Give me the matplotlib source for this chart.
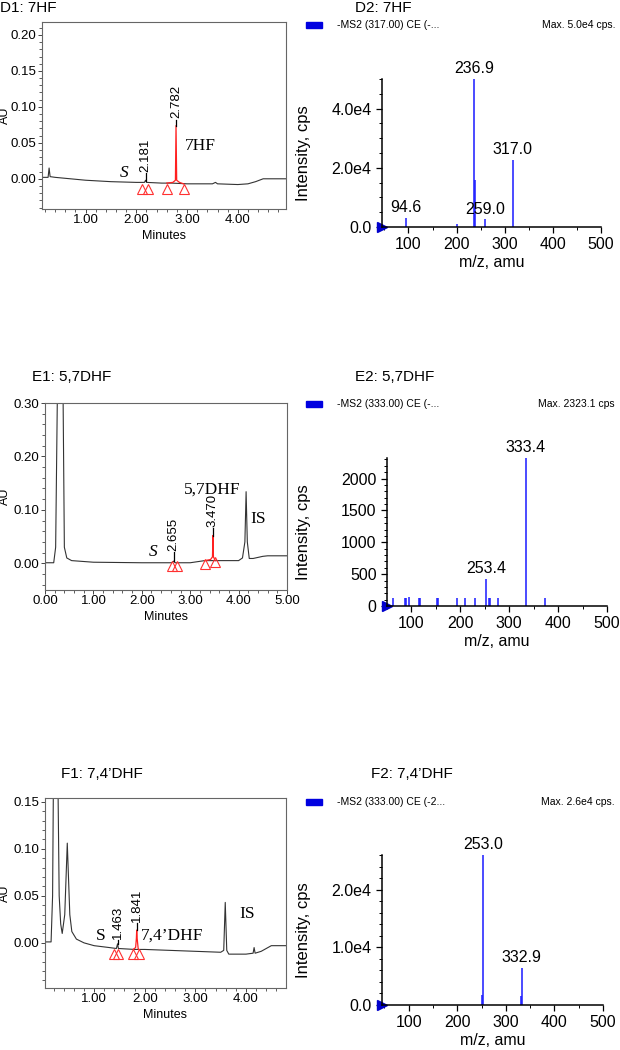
import numpy as np
import matplotlib.pyplot as plt
from matplotlib.ticker import MultipleLocator, FormatStrFormatter, FixedLocator, FuncFormatter
from matplotlib.patches import Rectangle

plt.rcParams['font.family'] = ['Liberation Sans', 'DejaVu Sans']

# ---------------- chromatograms (time in min, AU) ----------------
d1_t = [0.14, 0.26, 0.28, 0.30, 0.40, 0.70, 1.00, 1.50, 2.00, 2.16, 2.181, 2.20, 2.50, 2.70,
        3.00, 3.50, 3.56, 3.60, 4.00, 4.20, 4.35, 4.50, 4.95]
d1_au = [0.002, 0.002, 0.015, 0.003, 0.002, 0.000, -0.002, -0.004, -0.005, -0.005, -0.002, -0.005,
         -0.006, -0.006, -0.007, -0.007, -0.005, -0.007, -0.008, -0.007, -0.004, 0.000, 0.000]
d1_red_t = [2.60, 2.72, 2.77, 2.782, 2.795, 2.85, 2.93]
d1_red_au = [-0.006, -0.005, -0.002, 0.074, -0.002, -0.005, -0.007]
d1_tri_t = [2.12, 2.22, 2.60, 2.93]
d1_tri_au = [-0.014, -0.014, -0.014, -0.014]
d1_rt = ['2.181', '2.782']
d1_rt_lo = [-0.003, 0.074]
d1_rt_hi = [0.008, 0.082]

e1_t = [0.00, 0.18, 0.22, 0.26, 0.37, 0.40, 0.45, 0.55, 1.00, 2.00, 2.62, 2.655, 2.69, 3.00, 3.30,
        3.60, 4.00, 4.08, 4.13, 4.155, 4.18, 4.22, 4.30, 4.50, 4.60, 5.00]
e1_au = [0.001, 0.001, 0.03, 0.35, 0.35, 0.03, 0.010, 0.005, 0.002, 0.001, 0.001, 0.004, 0.001,
         0.001, 0.005, 0.005, 0.005, 0.010, 0.040, 0.134, 0.040, 0.009, 0.009, 0.013, 0.014, 0.014]
e1_red_t = [3.30, 3.42, 3.46, 3.47, 3.48, 3.52]
e1_red_au = [0.005, 0.007, 0.012, 0.052, 0.012, 0.005]
e1_tri_t = [2.62, 2.72, 3.31, 3.51]
e1_tri_au = [-0.006, -0.006, -0.002, 0.003]
e1_rt = ['2.655', '3.470']
e1_rt_lo = [0.004, 0.052]
e1_rt_hi = [0.021, 0.066]

f1_t = [0.03, 0.15, 0.18, 0.20, 0.28, 0.31, 0.34, 0.37, 0.42, 0.47, 0.52, 0.56, 0.65, 0.80, 1.00,
        1.30, 1.44, 1.463, 1.48, 1.80, 2.00, 2.50, 3.00, 3.50, 3.56, 3.59, 3.62, 3.66, 4.00, 4.14,
        4.16, 4.18, 4.30, 4.40, 4.50, 4.79]
f1_au = [0.001, 0.001, 0.05, 0.20, 0.20, 0.05, 0.02, 0.010, 0.03, 0.106, 0.03, 0.012, 0.004, 0.000,
         -0.003, -0.005, -0.006, -0.001, -0.006, -0.007, -0.007, -0.008, -0.009, -0.010, -0.008,
         0.043, -0.008, -0.012, -0.012, -0.011, -0.005, -0.011, -0.009, -0.006, -0.003, -0.003]
f1_red_t = [1.77, 1.82, 1.835, 1.841, 1.85, 1.87, 1.88]
f1_red_au = [-0.007, -0.005, 0.005, 0.0136, 0.005, -0.006, -0.007]
f1_tri_t = [1.40, 1.48, 1.77, 1.88]
f1_tri_au = [-0.012, -0.012, -0.012, -0.012]
f1_rt = ['1.463', '1.841']
f1_rt_lo = [-0.001, 0.0136]
f1_rt_hi = [0.003, 0.021]

# ---------------- MS2 spectra (m/z, cps) ----------------
d2_mz = [94.6, 200.0, 236.9, 237.9, 259.0, 317.0]
d2_int = [3100, 1000, 50000, 16000, 2600, 22600]
d2_lab = [94.6, 236.9, 259.0, 317.0]

e2_mz = [62, 86, 88, 96, 115, 117, 153, 155, 193, 209, 231, 253.4, 259, 261, 277, 333.4, 374]
e2_int = [125, 125, 125, 145, 125, 125, 125, 125, 125, 125, 125, 430, 125, 125, 125, 2323, 125]
e2_lab = [253.4, 333.4]

f2_mz = [251.6, 253.0, 331.9, 332.9]
f2_int = [1700, 26000, 1600, 6500]
f2_lab = [253.0, 332.9]

W, H = 620, 1050
fig = plt.figure(figsize=(W / 100, H / 100), dpi=100)


def rect(l, r, t, b):
    return [l / W, 1 - b / H, (r - l) / W, (b - t) / H]


def chrom(box, t, au, rt_, rt_au, tri_t, tri_au, rt, rt_lo, rt_hi, xlim, ylim, xt, ymaj, ymin, notes):
    ax = fig.add_axes(rect(*box))
    ax.plot(t, au, color='#333333', lw=0.8)
    ax.plot(rt_, rt_au, color='#ff2020', lw=0.9)
    ax.plot(tri_t, tri_au, ls='none', marker='^', ms=7.5, mfc='none', mec='#ff3030', mew=0.8)
    for lab, lo, hi in zip(rt, rt_lo, rt_hi):
        x = float(lab)
        ax.plot([x, x], [lo, hi], color='black', lw=0.9)
        ax.text(x, hi + 0.002 * (ylim[1] - ylim[0]) / 0.26, lab, rotation=90, ha='center',
                va='bottom', fontsize=9.5)
    for s, x, y, st in notes:
        ax.text(x, y, s, family=['Liberation Serif', 'DejaVu Serif'], fontsize=12.5,
                style=st, va='baseline', ha='left')
    ax.set_xlim(*xlim)
    ax.set_ylim(*ylim)
    ax.set_xticks(xt)
    ax.xaxis.set_minor_locator(MultipleLocator(0.2))
    ax.yaxis.set_major_locator(MultipleLocator(ymaj))
    ax.yaxis.set_minor_locator(MultipleLocator(ymin))
    ax.xaxis.set_major_formatter(FormatStrFormatter('%.2f'))
    ax.yaxis.set_major_formatter(FormatStrFormatter('%.2f'))
    ax.tick_params(which='major', length=3, width=0.7, labelsize=9.5, color='#444444', pad=0.8)
    ax.tick_params(which='minor', length=2.5, width=0.6, color='#444444')
    for sp in ax.spines.values():
        sp.set_color('#666666')
        sp.set_linewidth(0.8)
    ax.set_xlabel('Minutes', fontsize=9, labelpad=3)
    ax.set_ylabel('AU', fontsize=9)
    l, r = box[0], box[1]
    ax.yaxis.set_label_coords((11 - l) / (r - l), 0.5)
    return ax


def spec(box, mz, inten, lab, xlim, ymax, yt, yfmt, ymin, head, mx):
    ax = fig.add_axes(rect(*box))
    ax.vlines(mz, 0, inten, color='#1a1aff', lw=1.1)
    for m in lab:
        v = inten[mz.index(m)]
        ax.annotate('%.1f' % m, (m, v), xytext=(0, 2), textcoords='offset points',
                    ha='center', va='bottom', fontsize=11.5)
    ax.plot([xlim[0]], [0], marker='>', color='#0000cc', ms=7, clip_on=False)
    ax.set_xlim(*xlim)
    ax.set_ylim(0, ymax)
    ax.set_xticks([100, 200, 300, 400, 500])
    ax.xaxis.set_minor_locator(FixedLocator(np.arange(50, 501, 50)))
    ax.yaxis.set_major_locator(FixedLocator(yt))
    ax.yaxis.set_major_formatter(yfmt)
    ax.yaxis.set_minor_locator(MultipleLocator(ymin))
    for s in ['top', 'right']:
        ax.spines[s].set_visible(False)
    ax.spines['left'].set_linewidth(1.1)
    ax.spines['bottom'].set_linewidth(1.1)
    ax.tick_params(which='major', length=4, width=0.9, labelsize=11.5)
    ax.tick_params(which='minor', length=2, width=0.7)
    ax.set_xlabel('m/z, amu', fontsize=11.5, labelpad=2)
    ax.set_ylabel('Intensity, cps', fontsize=12)
    l, r = box[0], box[1]
    ax.yaxis.set_label_coords((311 - l) / (r - l), 0.5)
    # header line of the spectrum window
    fig.add_artist(Rectangle((306 / W, 1 - (head + 3) / H), 16 / W, 6 / H, transform=fig.transFigure,
                             color='#0000e0'))
    fig.text(337 / W, 1 - head / H, mx[0], fontsize=7.5, va='center', ha='left')
    fig.text(615 / W, 1 - head / H, mx[1], fontsize=7.5, va='center', ha='right')
    return ax


def e4(v, pos):
    return '0.0' if v == 0 else '%.1fe4' % (v / 1e4)


chrom((42, 286, 22, 209), d1_t, d1_au, d1_red_t, d1_red_au, d1_tri_t, d1_tri_au,
      d1_rt, d1_rt_lo, d1_rt_hi, (0.14, 4.95), (-0.042, 0.218), [1, 2, 3, 4], 0.05, 0.01,
      [('S', 1.68, 0.002, 'italic'), ('7HF', 2.96, 0.040, 'normal')])
chrom((45, 287, 403, 590), e1_t, e1_au, e1_red_t, e1_red_au, e1_tri_t, e1_tri_au,
      e1_rt, e1_rt_lo, e1_rt_hi, (0.0, 5.0), (-0.05, 0.30), [0, 1, 2, 3, 4, 5], 0.10, 0.02,
      [('S', 2.15, 0.013, 'italic'), ('5,7DHF', 2.88, 0.131, 'normal'), ('IS', 4.25, 0.076, 'normal')])
chrom((45, 286, 798, 988), f1_t, f1_au, f1_red_t, f1_red_au, f1_tri_t, f1_tri_au,
      f1_rt, f1_rt_lo, f1_rt_hi, (0.03, 4.79), (-0.048, 0.154), [1, 2, 3, 4], 0.05, 0.01,
      [('S', 1.03, 0.003, 'normal'), ('7,4\u2019DHF', 1.92, 0.003, 'normal'), ('IS', 3.86, 0.026, 'normal')])

spec((382, 601, 79, 227), d2_mz, d2_int, d2_lab, (45, 500), 50000, [0, 20000, 40000],
     FuncFormatter(e4), 5000, 25, ('-MS2 (317.00) CE (-...', 'Max. 5.0e4 cps.'))
spec((387, 607, 458, 606), e2_mz, e2_int, e2_lab, (50, 500), 2323, [0, 500, 1000, 1500, 2000],
     FormatStrFormatter('%d'), 100, 404, ('-MS2 (333.00) CE (-...', 'Max. 2323.1 cps'))
spec((382, 603, 855, 1005), f2_mz, f2_int, f2_lab, (45, 500), 26000, [0, 10000, 20000],
     FuncFormatter(e4), 2000, 802, ('-MS2 (333.00) CE (-2...', 'Max. 2.6e4 cps.'))

titles = [('D1: 7HF', 0, 8), ('D2: 7HF', 355, 8), ('E1: 5,7DHF', 32, 377), ('E2: 5,7DHF', 355, 377),
          ('F1: 7,4\u2019DHF', 61, 774), ('F2: 7,4\u2019DHF', 371, 774)]
for s, x, y in titles:
    fig.text(x / W, 1 - y / H, s, fontsize=11, va='center', ha='left')

fig.savefig('out.png', dpi=100)
